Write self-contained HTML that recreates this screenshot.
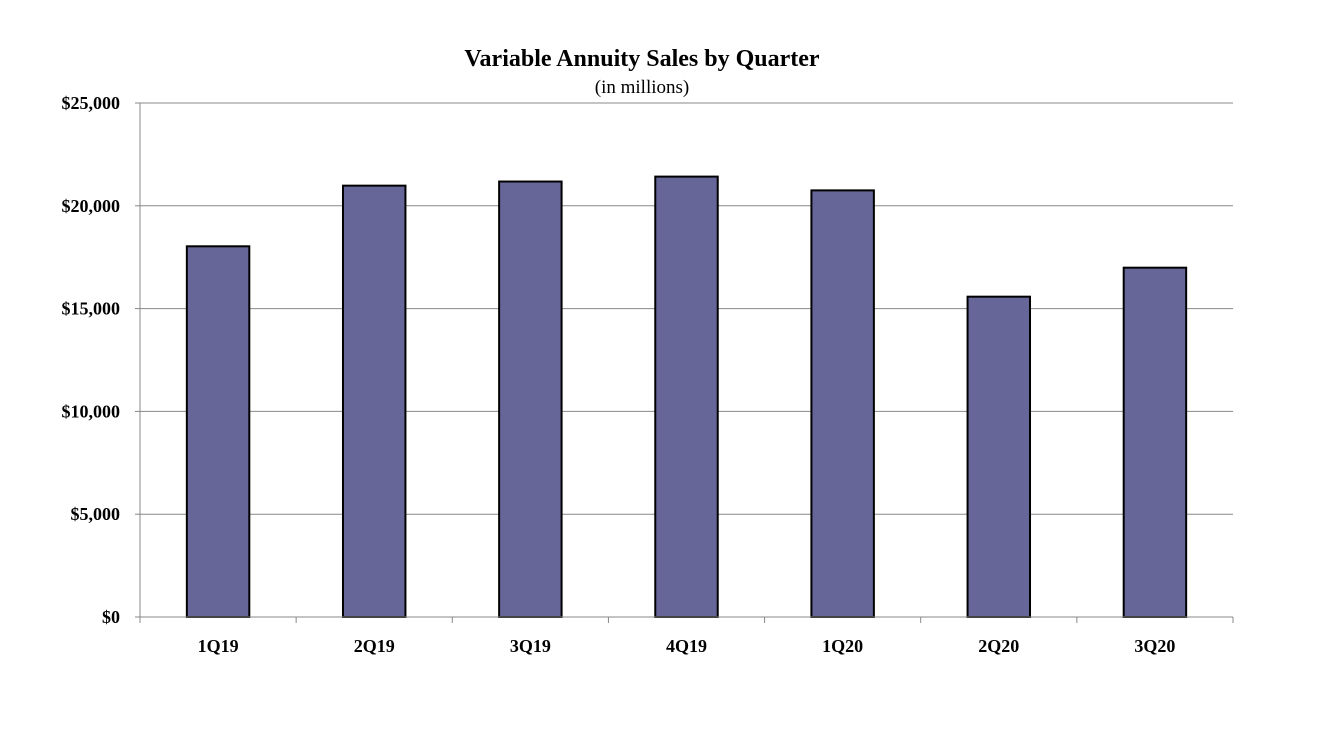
<!DOCTYPE html>
<html><head><meta charset="utf-8"><style>
body{margin:0;background:#fff;}
svg{display:block;font-family:"Liberation Serif",serif;}
</style></head><body>
<svg id="chart" width="1322" height="739">
<text x="642" y="66" text-anchor="middle" font-size="24" font-weight="bold">Variable Annuity Sales by Quarter</text>
<text x="642" y="93" text-anchor="middle" font-size="19">(in millions)</text>
<g id="grid"></g><g id="bars"></g><g id="axes"></g>
</svg>
<script>
const categories=["1Q19","2Q19","3Q19","4Q19","1Q20","2Q20","3Q20"];
const values=[18030,20980,21180,21420,20750,15580,16990];
const yTicks=[0,5000,10000,15000,20000,25000];
const yTickLabels=["$0","$5,000","$10,000","$15,000","$20,000","$25,000"];
const NS="http://www.w3.org/2000/svg";
const L=140,R=1233,T=103,B=617,MAX=25000;
const y=v=>B-(v/MAX)*(B-T);
const band=(R-L)/categories.length;
const x=i=>L+band*i+band/2;
function mk(tag,attrs,parent){const e=document.createElementNS(NS,tag);for(const k in attrs)e.setAttribute(k,attrs[k]);parent.appendChild(e);return e;}
const grid=document.getElementById('grid'),bars=document.getElementById('bars'),axes=document.getElementById('axes');
yTicks.forEach((t,i)=>{
 if(t>0){const g=mk('line',{x1:L,x2:R,y1:y(t),y2:y(t),stroke:'#888','stroke-width':1},grid);
 
 }
 const tk=mk('line',{x1:L-5,x2:L,y1:y(t),y2:y(t),stroke:'#888'},axes);
 
 
 const tx=mk('text',{x:L-20,y:y(t)+6,'text-anchor':'end','font-size':18,'font-weight':'bold'},axes);
 tx.textContent=yTickLabels[i];
 
 
});
const bw=band*0.4;
values.forEach((v,i)=>{
 const r=mk('rect',{x:x(i)-bw/2,y:y(v),width:bw,height:B-y(v),fill:'#666699',stroke:'#000','stroke-width':2},bars);
 
 
 const tx=mk('text',{x:x(i),y:B+35,'text-anchor':'middle','font-size':18,'font-weight':'bold'},axes);
 tx.textContent=categories[i];
 
 
});
for(let i=0;i<=categories.length;i++){
 const tk=mk('line',{x1:L+band*i,x2:L+band*i,y1:B,y2:B+6,stroke:'#888'},axes);
 
 
}
const ya=mk('line',{x1:L,x2:L,y1:T,y2:B,stroke:'#888'},axes);


const xa=mk('line',{x1:L,x2:R,y1:B,y2:B,stroke:'#888'},axes);


</script>
</body></html>
